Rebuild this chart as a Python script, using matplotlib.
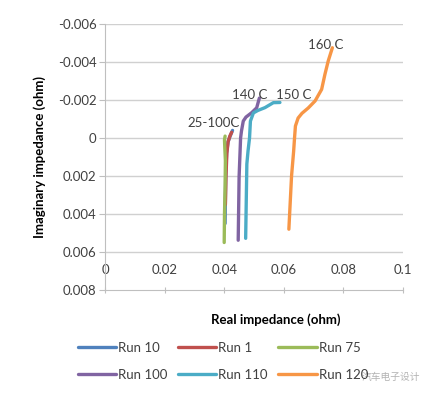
import matplotlib.pyplot as plt
import numpy as np

# Nyquist-style data (real, imaginary) in ohm
run10_x = [0.0403, 0.0405, 0.0408, 0.0413, 0.0420, 0.0428]
run10_y = [0.0045, 0.0020, 0.0008, 0.0002, -0.0001, -0.0004]
run1_x = [0.0404, 0.0406, 0.0409, 0.0413, 0.0419, 0.0425]
run1_y = [0.0035, 0.0020, 0.0008, 0.0002, -0.0001, -0.0003]
run75_x = [0.0400, 0.0401, 0.0403, 0.0404, 0.0402, 0.0401, 0.0403]
run75_y = [0.0055, 0.0040, 0.0025, 0.0012, 0.0005, 0.0001, -0.0001]
run100_x = [0.0447, 0.0450, 0.0455, 0.0458, 0.0464, 0.0473, 0.0492, 0.0509, 0.0518]
run100_y = [0.00538, 0.00205, 0.0, -0.00037, -0.00089, -0.0011, -0.00133, -0.00159, -0.0021]
run110_x = [0.0472, 0.0476, 0.0480, 0.0485, 0.0488, 0.0498, 0.0513, 0.0537, 0.0565, 0.0587]
run110_y = [0.00528, 0.00137, 0.00068, 0.0, -0.00089, -0.00132, -0.00145, -0.0016, -0.00186, -0.00187]
run120_x = [0.0617, 0.0626, 0.0633, 0.0636, 0.0639, 0.0648, 0.0661, 0.0682, 0.0705, 0.0727, 0.0738, 0.0749, 0.0763]
run120_y = [0.0048, 0.0020, 0.0007, 0.0, -0.00063, -0.00105, -0.0013, -0.00158, -0.00195, -0.00256, -0.00335, -0.00405, -0.00475]

series = [
    ('Run 10', run10_x, run10_y, '#4F81BD'),
    ('Run 1', run1_x, run1_y, '#C0504D'),
    ('Run 75', run75_x, run75_y, '#9BBB59'),
    ('Run 100', run100_x, run100_y, '#8064A2'),
    ('Run 110', run110_x, run110_y, '#4BACC6'),
    ('Run 120', run120_x, run120_y, '#F79646'),
]

temp_labels = ['25-100C', '140 C', '150 C', '160 C']
temp_x = [0.0364, 0.0487, 0.0634, 0.0740]
temp_y = [-0.00079, -0.00226, -0.00226, -0.0049]

x_ticks = [0, 0.02, 0.04, 0.06, 0.08, 0.1]
x_ticklabels = ['0', '0.02', '0.04', '0.06', '0.08', '0.1']
y_ticks = [-0.006, -0.004, -0.002, 0, 0.002, 0.004, 0.006, 0.008]
y_ticklabels = ['-0.006', '-0.004', '-0.002', '0', '0.002', '0.004', '0.006', '0.008']

plt.rcParams['font.family'] = ['Lato', 'DejaVu Sans']
txt = '#404040'
grid_c = '#D0D0D0'

fig = plt.figure(figsize=(4.22, 3.94), dpi=100)
ax = fig.add_axes([105 / 422, 1 - 290 / 394, 298 / 422, 266 / 394])

handles = {}
for name, xs, ys, c in series:
    h, = ax.plot(xs, ys, color=c, lw=2.4, solid_capstyle='round', label=name)
    handles[name] = h

for lab, tx, ty in zip(temp_labels, temp_x, temp_y):
    ax.text(tx, ty, lab, ha='center', va='center', fontsize=9.5, color=txt)

ax.set_xlim(0, 0.1)
ax.set_ylim(0.008, -0.006)
ax.set_xticks(x_ticks)
ax.set_xticklabels(x_ticklabels)
ax.set_yticks(y_ticks)
ax.set_yticklabels(y_ticklabels)
for gy in y_ticks[:-1]:
    ax.axhline(gy, color=grid_c, lw=1, zorder=0)

for s in ['top', 'right']:
    ax.spines[s].set_visible(False)
for s in ['left', 'bottom']:
    ax.spines[s].set_color('#BFBFBF')
ax.tick_params(axis='y', colors='#BFBFBF', labelcolor=txt, labelsize=9.5, length=4, pad=2)
ax.tick_params(axis='x', colors='#BFBFBF', labelcolor=txt, labelsize=9.5, length=4,
               direction='inout', pad=-21)

fig.text(40 / 422, 1 - 157 / 394, 'Imaginary impedance (ohm)', rotation=90,
         ha='center', va='center', fontsize=9.5, fontweight='bold', color='black')
fig.text(276 / 422, 1 - 320 / 394, 'Real impedance (ohm)',
         ha='center', va='center', fontsize=9.5, fontweight='bold', color='black')

order = ['Run 10', 'Run 100', 'Run 1', 'Run 110', 'Run 75', 'Run 120']
fig.legend([handles[n] for n in order], order, ncol=3, frameon=False,
           loc='upper left', bbox_to_anchor=(78 / 422, 1 - 342 / 394),
           borderpad=0, borderaxespad=0, handlelength=2.9, handletextpad=0.15,
           columnspacing=0.8, labelspacing=1.1, fontsize=9.5, labelcolor=txt)

# faint watermark in the lower right corner
fig.text(362 / 422, 1 - 377 / 394, '汽车电子设计', ha='left', va='center', fontsize=7,
         color='#A0A0A0', alpha=0.8, family=['Noto Sans CJK SC', 'DejaVu Sans'])

fig.savefig('out.png', dpi=100)
